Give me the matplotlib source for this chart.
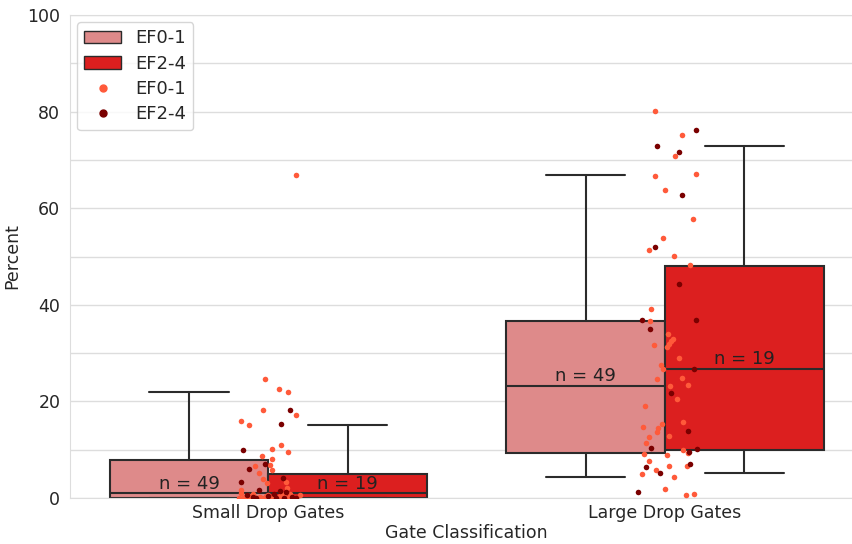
import matplotlib
matplotlib.use("Agg")
import matplotlib.pyplot as plt
import numpy as np
import seaborn as sns
from matplotlib.patches import Patch
from matplotlib.lines import Line2D
from matplotlib.ticker import MultipleLocator

sns.set_style("whitegrid")
plt.rcParams['font.family'] = ['DejaVu Sans']

categories = ["Small Drop Gates", "Large Drop Gates"]
hues = ["EF0-1", "EF2-4"]
counts = [49, 19]

# box stats: [small, large]
med = {"EF0-1": [1.0, 23.2], "EF2-4": [1.0, 26.7]}
q1 = {"EF0-1": [0.0, 9.3], "EF2-4": [0.0, 9.9]}
q3 = {"EF0-1": [7.9, 36.6], "EF2-4": [5.0, 48.0]}
whislo = {"EF0-1": [0.0, 4.3], "EF2-4": [0.0, 5.2]}
whishi = {"EF0-1": [21.9, 66.9], "EF2-4": [15.1, 72.9]}

# strip points (value, jitter offset)
small_ef01_vals = [66.9, 24.6, 22.6, 21.9, 18.2, 17.2, 15.9, 15.1, 11.0, 10.1, 9.5, 8.7,
                   8.1, 6.8, 6.6, 5.8, 5.2, 3.9, 3.3, 3.1, 2.1, 1.7, 1.0,
                   0.0, 0.2, 0.5, 0.8, 0.0, 0.3, 0.0, 0.6, 0.1, 0.0, 0.4, 0.9, 0.0,
                   0.2, 0.0, 0.7, 0.0, 0.3, 0.0, 0.5, 0.1, 0.0, 0.8, 0.0, 0.2, 0.0]
small_ef01_jit = [0.07, -0.008, 0.028, 0.05, -0.013, 0.07, -0.068, -0.048, 0.033, 0.008, 0.05, -0.015,
                  0.01, 0.005, -0.033, 0.008, -0.023, -0.013, 0.045, -0.003, 0.048, -0.068, -0.07,
                  -0.075, -0.06, -0.05, -0.04, -0.03, -0.02, -0.01, 0.0, 0.01, 0.02, 0.03, 0.04, 0.05,
                  0.06, 0.07, 0.08, -0.065, -0.045, -0.025, -0.005, 0.015, 0.035, 0.055, 0.065, -0.055, 0.025]
small_ef24_vals = [18.2, 15.3, 9.9, 7.0, 6.0, 4.1, 3.3, 1.7, 0.6,
                   0.0, 0.3, 1.2, 0.0, 0.5, 0.0, 0.9, 0.2, 0.0, 1.4]
small_ef24_jit = [0.055, 0.033, -0.065, -0.008, -0.05, 0.038, -0.068, -0.023, -0.053,
                  0.02, 0.06, 0.045, -0.03, 0.0, 0.07, 0.015, -0.04, 0.04, 0.03]
large_ef01_vals = [80.1, 75.2, 70.8, 66.7, 67.1, 63.8, 57.8, 53.8, 51.3, 50.1, 48.2, 39.1,
                   36.6, 34.0, 32.9, 32.5, 31.9, 31.7, 31.3, 29.0, 27.5, 26.7, 24.6, 24.8,
                   23.4, 23.2, 20.5, 19.0, 15.7, 15.3, 14.7, 14.5, 13.7, 12.8, 12.6, 11.4,
                   9.9, 9.3, 9.1, 8.9, 7.7, 6.6, 6.6, 5.8, 5.0, 4.3, 1.9, 0.6, 0.8]
large_ef01_jit = [-0.025, 0.043, 0.025, -0.025, 0.078, 0.0, 0.07, -0.005, -0.04, 0.023, 0.063, -0.035,
                  -0.038, 0.008, 0.02, 0.015, 0.01, -0.028, 0.005, 0.035, -0.01, -0.005, -0.02, 0.043,
                  0.058, 0.013, 0.03, -0.05, 0.045, -0.008, -0.055, -0.018, -0.02, 0.01, -0.04, -0.048,
                  0.045, 0.058, -0.053, 0.005, -0.04, 0.055, 0.01, -0.023, -0.058, 0.023, 0.0, 0.053, 0.073]
large_ef24_vals = [76.2, 72.9, 71.6, 62.7, 52.0, 44.3, 36.9, 36.9, 35.0, 26.7, 21.7,
                   13.9, 10.4, 10.1, 9.5, 7.0, 6.4, 5.2, 1.2]
large_ef24_jit = [0.078, -0.02, 0.035, 0.043, -0.025, 0.035, -0.058, 0.078, -0.038, 0.073, 0.015,
                  0.058, -0.035, 0.08, 0.06, 0.063, -0.048, -0.013, -0.068]

box_colors = {"EF0-1": "#de8a8a", "EF2-4": "#dc1f1f"}
dot_colors = {"EF0-1": "#ff5a3a", "EF2-4": "#7a0000"}
edge = "#2b2b2b"

fig = plt.figure(figsize=(8.52, 5.44), dpi=100)
ax = fig.add_axes([70 / 852, 46 / 544, 793.5 / 852, 483 / 544])

x = np.arange(len(categories))
offsets = {"EF0-1": -0.2, "EF2-4": 0.2}
for h in hues:
    stats = []
    for i in range(len(categories)):
        stats.append(dict(med=med[h][i], q1=q1[h][i], q3=q3[h][i],
                          whislo=whislo[h][i], whishi=whishi[h][i], fliers=[]))
    ax.bxp(stats, positions=x + offsets[h], widths=0.4, capwidths=0.2,
           patch_artist=True, showfliers=False,
           boxprops=dict(facecolor=box_colors[h], edgecolor=edge, linewidth=1.5),
           medianprops=dict(color=edge, linewidth=1.5),
           whiskerprops=dict(color=edge, linewidth=1.5),
           capprops=dict(color=edge, linewidth=1.5), zorder=2)
    for i in range(len(categories)):
        ax.text(x[i] + offsets[h], med[h][i] + 2, "n = %d" % counts[hues.index(h)],
                ha="center", va="center", fontsize=13, color="#222222", zorder=4)

strips = [(0, "EF0-1", small_ef01_vals, small_ef01_jit),
          (0, "EF2-4", small_ef24_vals, small_ef24_jit),
          (1, "EF0-1", large_ef01_vals, large_ef01_jit),
          (1, "EF2-4", large_ef24_vals, large_ef24_jit)]
for i, h, vals, jit in strips:
    ax.scatter(x[i] + np.array(jit), vals, s=16, color=dot_colors[h],
               linewidths=0, zorder=3)

ax.set_xlim(-0.5, 1.5)
ax.set_ylim(0, 100)
ax.set_xticks(x)
ax.set_xticklabels(categories, fontsize=12.5)
ax.yaxis.set_major_locator(MultipleLocator(20))
ax.yaxis.set_minor_locator(MultipleLocator(10))
ax.tick_params(axis="y", labelsize=12.5)
ax.tick_params(axis="x", pad=1)
ax.grid(True, axis="y", which="both", color="#dddddd", linewidth=1)
ax.grid(False, axis="x")
ax.set_axisbelow(True)
ax.set_xlabel("Gate Classification", fontsize=12.5, labelpad=1)
ax.set_ylabel("Percent", fontsize=12.5)
for s in ax.spines.values():
    s.set_color("#dddddd")

handles = [Patch(facecolor=box_colors["EF0-1"], edgecolor=edge, label="EF0-1"),
           Patch(facecolor=box_colors["EF2-4"], edgecolor=edge, label="EF2-4"),
           Line2D([], [], marker="o", linestyle="", color=dot_colors["EF0-1"], markersize=5, label="EF0-1"),
           Line2D([], [], marker="o", linestyle="", color=dot_colors["EF2-4"], markersize=5, label="EF2-4")]
ax.legend(handles=handles, loc="upper left", fontsize=13, handlelength=2.0,
          labelspacing=0.4, frameon=True, borderaxespad=0.4)

fig.savefig("out.png", dpi=100)
